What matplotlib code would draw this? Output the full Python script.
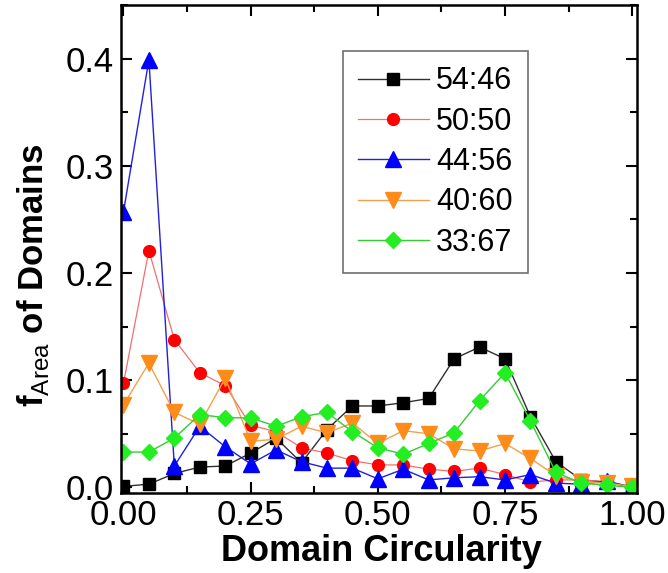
import matplotlib
matplotlib.use("Agg")
import matplotlib.pyplot as plt
import numpy as np
from matplotlib.ticker import MultipleLocator, FormatStrFormatter

plt.rcParams['font.family'] = ['Liberation Sans', 'DejaVu Sans']
plt.rcParams['mathtext.fontset'] = 'custom'
plt.rcParams['mathtext.rm'] = 'Liberation Sans'
plt.rcParams['mathtext.bf'] = 'Liberation Sans:bold'

# circularity bins
circ = np.round(np.arange(0, 1.0001, 0.05), 2)

f_54_46 = [0.001, 0.003, 0.013, 0.019, 0.020, 0.032, 0.046, 0.023, 0.054, 0.076, 0.076,
           0.079, 0.083, 0.120, 0.131, 0.120, 0.066, 0.024, 0.007, 0.005, 0.000]
f_50_50 = [0.097, 0.221, 0.138, 0.107, 0.095, 0.058, 0.052, 0.037, 0.032, 0.025, 0.021,
           0.021, 0.017, 0.015, 0.018, 0.012, 0.005, 0.007, 0.007, 0.005, 0.001]
f_44_56 = [0.257, 0.399, 0.020, 0.057, 0.038, 0.022, 0.035, 0.024, 0.018, 0.018, 0.008,
           0.017, 0.007, 0.009, 0.010, 0.007, 0.012, 0.004, 0.003, 0.006, 0.000]
f_40_60 = [0.077, 0.116, 0.070, 0.059, 0.102, 0.043, 0.045, 0.057, 0.051, 0.060, 0.041,
           0.053, 0.050, 0.036, 0.034, 0.041, 0.027, 0.011, 0.005, 0.004, 0.001]
f_33_67 = [0.033, 0.033, 0.046, 0.068, 0.065, 0.065, 0.057, 0.066, 0.070, 0.052, 0.037,
           0.031, 0.041, 0.051, 0.081, 0.107, 0.062, 0.014, 0.004, 0.002, 0.000]

labels = ["54:46", "50:50", "44:56", "40:60", "33:67"]
series = [f_54_46, f_50_50, f_44_56, f_40_60, f_33_67]

# marker colour, marker, size, line colour, line width
styles = [
    ('black', 's', 8.5, '#303030', 1.0),
    ('#ff0000', 'o', 8.5, '#f07070', 0.9),
    ('#0000ff', '^', 11, '#2020e0', 1.0),
    ('#ff8c1a', 'v', 11, '#f0a050', 1.0),
    ('#22ee22', 'D', 8.5, '#33cc33', 1.0),
]

fig = plt.figure(figsize=(6.68, 5.73), dpi=100)
ax = fig.add_axes([0.181, 0.140, 0.773, 0.851])

for lab, ys, (mc, mk, ms, lc, lw) in zip(labels, series, styles):
    ax.plot(circ, ys, color=lc, lw=lw, marker=mk, ms=ms, mfc=mc, mec=mc, label=lab)

ax.set_xlim(-0.005, 1.01)
ax.set_ylim(-0.005, 0.45)
ax.xaxis.set_major_locator(MultipleLocator(0.25))
ax.xaxis.set_minor_locator(MultipleLocator(0.125))
ax.yaxis.set_major_locator(MultipleLocator(0.1))
ax.yaxis.set_minor_locator(MultipleLocator(0.05))
ax.xaxis.set_major_formatter(FormatStrFormatter('%.2f'))
ax.yaxis.set_major_formatter(FormatStrFormatter('%.1f'))

ax.tick_params(which='both', direction='in', top=True, right=True, width=1.5)
ax.tick_params(which='major', length=8, labelsize=25)
ax.tick_params(axis='y', which='major', pad=5)
ax.tick_params(axis='x', which='major', pad=4.5)
ax.tick_params(which='minor', length=5)
for sp in ax.spines.values():
    sp.set_linewidth(1.8)

ax.set_xlabel("Domain Circularity", fontsize=26, fontweight='bold')
ax.set_ylabel(r"$\mathbf{f}_{\mathrm{Area}}$ of Domains", fontsize=25,
              fontweight='bold')
ax.xaxis.set_label_coords(0.504, -0.085)
ax.yaxis.set_label_coords(-0.135, 0.447)

leg = ax.legend(loc='upper left', bbox_to_anchor=(0.430, 0.906), fontsize=22,
                handlelength=2.3, handletextpad=0.25, labelspacing=0.34,
                borderpad=0.5, borderaxespad=0, fancybox=False, framealpha=1,
                edgecolor='#707070')
leg.get_frame().set_linewidth(1.2)

fig.savefig("out.png", dpi=100)
